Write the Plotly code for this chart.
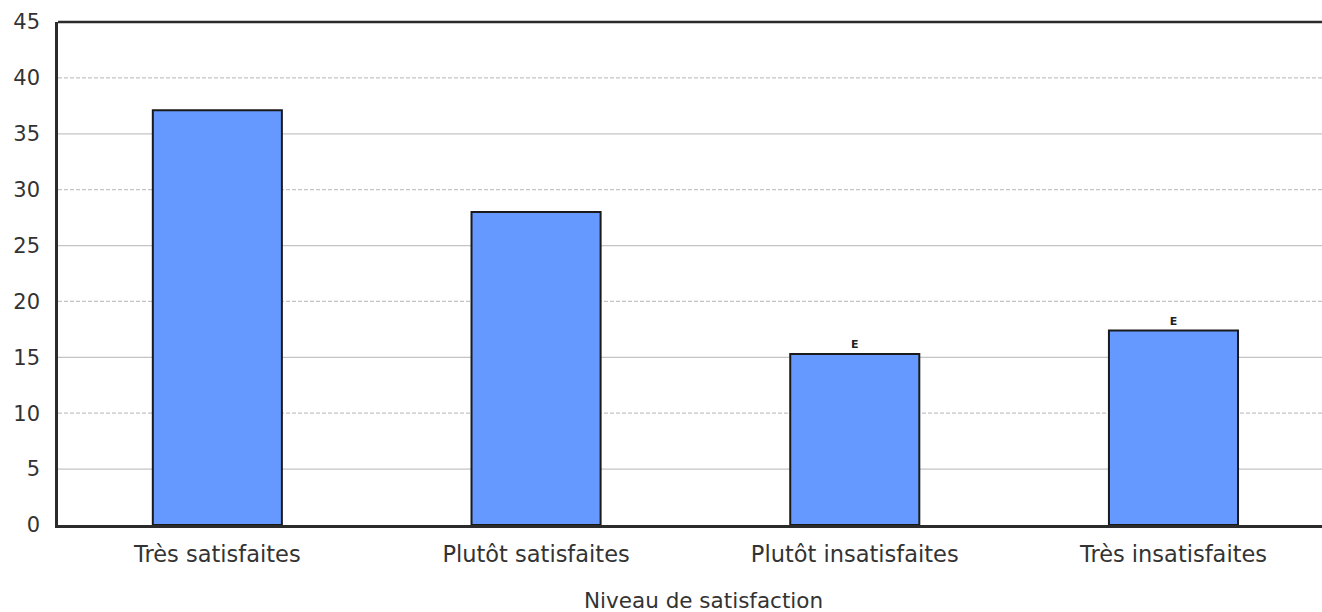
import plotly.graph_objects as go

# Satisfaction levels and share of respondents (%)
categories = ["Très satisfaites", "Plutôt satisfaites", "Plutôt insatisfaites", "Très insatisfaites"]
values = [37.1, 28.0, 15.3, 17.4]
quality_flags = ["", "", "E", "E"]  # E = use with caution

y_ticks = [0, 5, 10, 15, 20, 25, 30, 35, 40, 45]
x_title = "Niveau de satisfaction"

FONT = "DejaVu Sans, Verdana, sans-serif"
AXIS_COLOR = "#2b2b2b"
TEXT_COLOR = "#333333"

fig = go.Figure(
    go.Bar(
        x=list(range(len(categories))),
        y=values,
        width=0.405,
        marker=dict(color="#6699ff", line=dict(color="#1a1a1a", width=2)),
        text=quality_flags,
        textposition="outside",
        textfont=dict(family="DejaVu Sans, sans-serif", size=11, color="#222222", weight="bold"),
        cliponaxis=False,
        hoverinfo="x+y",
    )
)

# Horizontal gridlines: solid at the 5s, dashed at the 10s
shapes = []
for v in y_ticks[1:-1]:
    shapes.append(
        dict(
            type="line", xref="paper", yref="y", x0=0, x1=1, y0=v, y1=v,
            layer="below",
            line=dict(color="#c4c4c4", width=1.2, dash="4px,2px" if v % 10 == 0 else "solid"),
        )
    )
# Frame line along the top of the plot
shapes.append(
    dict(type="line", xref="paper", yref="paper", x0=0, x1=1, y0=1, y1=1,
         line=dict(color=AXIS_COLOR, width=2.5))
)

fig.update_layout(
    width=1322,
    height=612,
    margin=dict(l=58, r=0, t=22, b=87),
    paper_bgcolor="white",
    plot_bgcolor="white",
    showlegend=False,
    bargap=0.6,
    font=dict(family=FONT, color=TEXT_COLOR),
    shapes=shapes,
    xaxis=dict(
        range=[-0.5, 3.466],
        tickmode="array",
        tickvals=list(range(len(categories))),
        ticktext=categories,
        tickfont=dict(size=22.5, color=TEXT_COLOR),
        showgrid=False,
        showline=True,
        linecolor=AXIS_COLOR,
        linewidth=2.5,
        ticks="",
        ticklabelstandoff=7,
        zeroline=False,
        fixedrange=True,
    ),
    yaxis=dict(
        range=[0, 45],
        tickmode="array",
        tickvals=y_ticks,
        ticktext=[str(v) for v in y_ticks],
        tickfont=dict(size=21, color=TEXT_COLOR),
        showgrid=False,
        showline=True,
        linecolor=AXIS_COLOR,
        linewidth=2.5,
        ticks="",
        ticklabelstandoff=11,
        zeroline=False,
        fixedrange=True,
    ),
    annotations=[
        dict(
            text=x_title, xref="paper", yref="paper",
            x=0.5, y=0, xshift=13, yshift=-75, xanchor="center", yanchor="middle",
            showarrow=False, font=dict(size=21.5, color=TEXT_COLOR, family=FONT),
        )
    ],
)

fig.write_html("out.html")
